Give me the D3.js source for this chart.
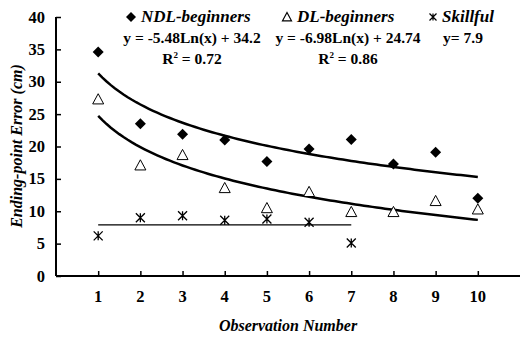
<!DOCTYPE html>
<html><head><meta charset="utf-8">
<script src="https://cdn.jsdelivr.net/npm/d3@7"></script>
<style>html,body{margin:0;padding:0;background:#fff}svg{display:block}</style>
</head><body>
<svg id="c" width="520" height="337"></svg>
<script>
const observations = [1,2,3,4,5,6,7,8,9,10];
const ndlValues = [34.6,23.5,21.9,21.0,17.7,19.6,21.1,17.3,19.1,12.0];
const dlValues  = [27.3,17.1,18.7,13.6,10.5,13.0,9.9,9.9,11.6,10.3];
const skillObs  = [1,2,3,4,5,6,7];
const skillValues = [6.2,9.0,9.3,8.6,8.8,8.3,5.1];
// trend lines as drawn: y = a + b*ln(x)
const ndlTrend = [31.3,-6.95];
const dlTrend = [24.74,-6.98];
const skillMean = 7.9;
const yTicks = [0,5,10,15,20,25,30,35,40];
const legendNames = ["NDL-beginners","DL-beginners","Skillful"];
const eqLabels = ["y = -5.48Ln(x) + 34.2","y = -6.98Ln(x) + 24.74","y= 7.9"];
const r2Labels = ["0.72","0.86"];

const svg = d3.select("#c");
const F = "'Liberation Serif','Times New Roman',serif";
const x = d3.scaleLinear().domain([0,11]).range([56,520]);
const y = d3.scaleLinear().domain([0,40]).range([276,17]);

// axes
const gy = svg.append("g").attr("transform","translate(56,0)")
  .call(d3.axisRight(y).tickValues(yTicks).tickSize(5).tickFormat(""));
gy.select(".domain").attr("d",`M0,${y(0)}V${y(40)}`).attr("stroke-width",2);
gy.selectAll(".tick line").attr("stroke-width",1.5);
svg.append("g").selectAll("text").data(yTicks).join("text")
  .attr("x",45).attr("y",d=>y(d)+5.5).attr("text-anchor","end")
  .attr("font-family",F).attr("font-weight","bold").attr("font-size",16.5).text(d=>d);

const gx = svg.append("g").attr("transform",`translate(0,${y(0)})`)
  .call(d3.axisTop(x).tickValues(observations).tickSize(5).tickFormat(""));
gx.select(".domain").attr("d",`M56,0H520`).attr("stroke-width",2);
gx.selectAll(".tick line").attr("stroke-width",1.5);
svg.append("g").selectAll("text").data(observations).join("text")
  .attr("x",d=>x(d)).attr("y",302).attr("text-anchor","middle")
  .attr("font-family",F).attr("font-weight","bold").attr("font-size",16.5).text(d=>d);

svg.append("text").attr("transform","translate(22,146) rotate(-90)")
  .attr("text-anchor","middle").attr("font-family",F).attr("font-weight","bold")
  .attr("font-style","italic").attr("font-size",16).text("Ending-point Error (cm)");
svg.append("text").attr("x",288).attr("y",331).attr("text-anchor","middle")
  .attr("font-family",F).attr("font-weight","bold").attr("font-style","italic")
  .attr("font-size",16).text("Observation Number");

// trend curves
const xs = d3.range(1,10.001,0.1);
const line = d3.line().x(d=>x(d[0])).y(d=>y(d[1]));
[ndlTrend,dlTrend].forEach(t=>{
  svg.append("path").attr("d",line(xs.map(v=>[v,t[0]+t[1]*Math.log(v)])))
    .attr("fill","none").attr("stroke","#000").attr("stroke-width",2.5);
});
svg.append("path").attr("d",line([[skillObs[0],skillMean],[skillObs[skillObs.length-1],skillMean]]))
  .attr("stroke","#000").attr("stroke-width",1.2);

// markers
function diamondPath(s){return `M0,${-s}L${s},0L0,${s}L${-s},0Z`;}
function triPath(s){return `M0,${-s}L${s},${s*0.85}L${-s},${s*0.85}Z`;}
function starPath(s){return `M${-s},${-s}L${s},${s}M${-s},${s}L${s},${-s}M0,${-s}V${s}`;}
svg.append("g").selectAll("path").data(ndlValues).join("path")
  .attr("transform",(d,i)=>`translate(${x(observations[i])},${y(d)})`)
  .attr("d",diamondPath(5.5)).attr("fill","#000");
svg.append("g").selectAll("path").data(dlValues).join("path")
  .attr("transform",(d,i)=>`translate(${x(observations[i])},${y(d)})`)
  .attr("d",triPath(5.5)).attr("fill","#fff").attr("stroke","#000").attr("stroke-width",1);
svg.append("g").selectAll("path").data(skillValues).join("path")
  .attr("transform",(d,i)=>`translate(${x(skillObs[i])},${y(d)})`)
  .attr("d",starPath(4.5)).attr("fill","none").attr("stroke","#000").attr("stroke-width",1.3);

// legend
const leg = [{mx:131,tx:141,path:diamondPath(5),fill:"#000",stroke:"none"},
             {mx:287,tx:297,path:triPath(4.5),fill:"#fff",stroke:"#000"},
             {mx:433,tx:442,path:starPath(3.5),fill:"none",stroke:"#000"}];
leg.forEach((l,i)=>{
  svg.append("path").attr("transform",`translate(${l.mx},17)`).attr("d",l.path)
    .attr("fill",l.fill).attr("stroke",l.stroke).attr("stroke-width",1.2);
  svg.append("text").attr("x",l.tx).attr("y",22).attr("font-family",F)
    .attr("font-weight","bold").attr("font-style","italic").attr("font-size",17).text(legendNames[i]);
});
const eqX = [192,348,463];
eqLabels.forEach((t,i)=>{
  svg.append("text").attr("x",eqX[i]).attr("y",43).attr("text-anchor","middle")
    .attr("font-family",F).attr("font-weight","bold").attr("font-size",15.5).text(t);
});
r2Labels.forEach((t,i)=>{
  const tx = svg.append("text").attr("x",eqX[i]).attr("y",64).attr("text-anchor","middle")
    .attr("font-family",F).attr("font-weight","bold").attr("font-size",15.5);
  tx.append("tspan").text("R");
  tx.append("tspan").attr("dy",-6).attr("font-size",9).text("2");
  tx.append("tspan").attr("dy",6).text(" = "+t);
});
</script>
</body></html>
